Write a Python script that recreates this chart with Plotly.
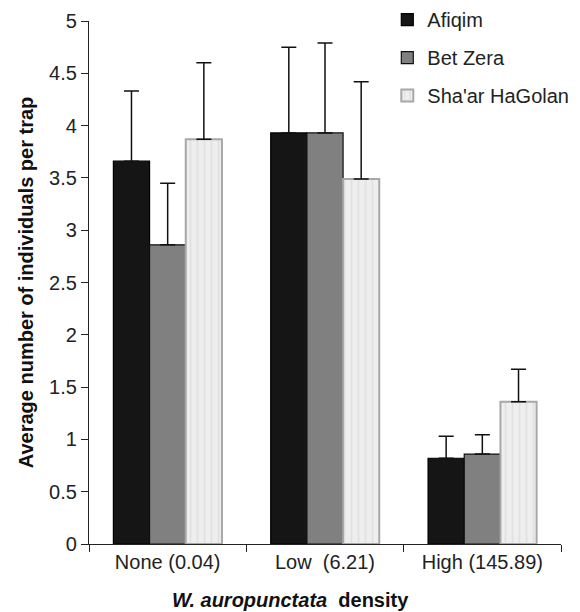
import plotly.graph_objects as go

categories = ["None (0.04)", "Low  (6.21)", "High (145.89)"]
series_names = ["Afiqim", "Bet Zera", "Sha'ar HaGolan"]
afiqim_mean = [3.66, 3.93, 0.82]
afiqim_upper = [4.33, 4.75, 1.03]
betzera_mean = [2.86, 3.93, 0.86]
betzera_upper = [3.45, 4.79, 1.045]
shaar_mean = [3.87, 3.49, 1.36]
shaar_upper = [4.60, 4.42, 1.67]
y_ticks = [0, 0.5, 1, 1.5, 2, 2.5, 3, 3.5, 4, 4.5, 5]

means = [afiqim_mean, betzera_mean, shaar_mean]
uppers = [afiqim_upper, betzera_upper, shaar_upper]
fills = ["#151515", "#808080", "#e9e9e9"]
outlines = ["#000000", "#111111", "#a8a8a8"]

FONT = "Liberation Sans, Arial, sans-serif"

fig = go.Figure()
for i, name in enumerate(series_names):
    plus = [u - m for u, m in zip(uppers[i], means[i])]
    marker = dict(color=fills[i], line=dict(color=outlines[i], width=1.2 if i < 2 else 2))
    if i == 2:
        marker["pattern"] = dict(shape="|", fgcolor="#d4d4d4", bgcolor="#eeeeee", size=7, solidity=0.25)
    fig.add_trace(go.Bar(
        x=categories, y=means[i], name=name, marker=marker,
        legendgroup=name,
        error_y=dict(type="data", symmetric=False, array=plus,
                     arrayminus=[0] * len(plus), color="#111111",
                     thickness=1.5, width=7.5),
    ))

fig.add_annotation(
    text="<b><i>W. auropunctata</i>&nbsp; density</b>",
    xref="paper", yref="paper", x=0.426, y=-0.107,
    xanchor="center", yanchor="middle", showarrow=False,
    font=dict(size=20, color="#111111"),
)

# The page adds an 8px body margin, so the figure is sized to 572x604.
fig.update_layout(
    width=572, height=604,
    margin=dict(l=81, r=19, t=13, b=68, autoexpand=False),
    paper_bgcolor="white", plot_bgcolor="white",
    barmode="group", bargap=0.31, bargroupgap=0,
    font=dict(family=FONT, size=20, color="#222222"),
    showlegend=True,
    legend=dict(x=0.632, y=1.04, xanchor="left", yanchor="top",
                font=dict(size=20, color="#222222"),
                traceorder="grouped", tracegroupgap=9,
                bgcolor="rgba(0,0,0,0)", itemwidth=30),
    xaxis=dict(type="category", showline=True, linecolor="#222222", linewidth=1.2,
               ticks="outside", tickson="boundaries", ticklen=7, tickcolor="#222222",
               tickwidth=1.2, showgrid=False, zeroline=False,
               tickfont=dict(size=20, color="#222222")),
    yaxis=dict(range=[0, 5], tickvals=y_ticks,
               ticktext=[("%g" % v) for v in y_ticks],
               showline=True, linecolor="#222222", linewidth=1.2,
               ticks="outside", ticklen=7, tickcolor="#222222", tickwidth=1.2,
               showgrid=False, zeroline=False,
               tickfont=dict(size=20, color="#222222"),
               title=dict(text="<b>Average number of individuals per trap</b>",
                          font=dict(size=20, color="#111111"), standoff=10)),
)

fig.write_html("out.html")
